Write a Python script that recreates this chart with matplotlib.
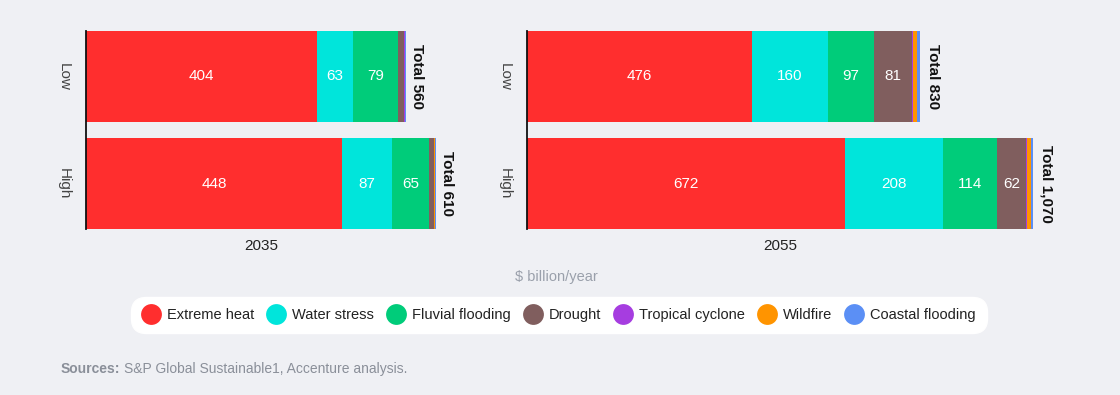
import matplotlib
matplotlib.use("Agg")
import matplotlib.pyplot as plt
from matplotlib.lines import Line2D
import numpy as np

plt.rcParams["font.family"] = ["Liberation Sans", "DejaVu Sans"]

# ---- data ----
hazards = ["Extreme heat", "Water stress", "Fluvial flooding", "Drought",
           "Tropical cyclone", "Wildfire", "Coastal flooding"]
colors = ["#ff2e2e", "#00e5db", "#00cc7a", "#805e5e", "#a63de0", "#ff9400", "#5b8ff5"]
scenarios = ["Low", "High"]
years = ["2035", "2055"]

vals_2035_low = [404, 63, 79, 10, 1, 1, 2]
vals_2035_high = [448, 87, 65, 8, 1, 1, 2]
vals_2055_low = [476, 160, 97, 81, 2, 8, 6]
vals_2055_high = [672, 208, 114, 62, 1, 8, 5]
totals_2035 = ["560", "610"]
totals_2055 = ["830", "1,070"]

panels = [
    (years[0], [vals_2035_low, vals_2035_high], totals_2035),
    (years[1], [vals_2055_low, vals_2055_high], totals_2055),
]

bg = "#eff0f4"
fig = plt.figure(figsize=(11.2, 3.95), dpi=100, facecolor=bg)

ax_rects = [
    [86 / 1120, 1 - 229 / 395, 350 / 1120, 198 / 395],
    [527 / 1120, 1 - 229 / 395, 506 / 1120, 198 / 395],
]

for rect, (year, rows, totals) in zip(ax_rects, panels):
    ax = fig.add_axes(rect)
    ax.set_facecolor(bg)
    max_total = max(sum(r) for r in rows)
    for i, row in enumerate(rows):
        left = 0
        for v, c in zip(row, colors):
            ax.barh(i, v, left=left, height=0.85, color=c, linewidth=0)
            if v >= 20:
                ax.text(left + v / 2, i, str(v), ha="center", va="center",
                        color="white", fontsize=11)
            left += v
        ax.text(left + max_total * 0.012, i, "Total " + totals[i], rotation=270,
                ha="left", va="center", fontsize=11, fontweight="bold", color="#111111")
    ax.set_ylim(1.425, -0.425)
    ax.set_xlim(0, max_total)
    ax.set_yticks(range(len(scenarios)))
    ax.set_yticklabels(scenarios, rotation=270, va="center", fontsize=11, color="#444444")
    ax.tick_params(axis="y", length=0, pad=11)
    ax.set_xticks([])
    ax.set_xlabel(year, fontsize=11, color="#222222", labelpad=7)
    for s in ["top", "right", "bottom"]:
        ax.spines[s].set_visible(False)
    ax.spines["left"].set_color("#111111")
    ax.spines["left"].set_linewidth(1.3)
    ax.set_zorder(2)

fig.text(556 / 1120, 1 - 277 / 395, "$ billion/year", ha="center", va="center",
         fontsize=10.5, color="#9aa0ab")

handles = [Line2D([0], [0], marker="o", linestyle="", markersize=15,
                  markerfacecolor=c, markeredgewidth=0) for c in colors]
leg = fig.legend(handles, hazards, loc="center", bbox_to_anchor=(559 / 1120, 1 - 315 / 395),
                 ncol=len(hazards), frameon=True, fancybox=True, fontsize=10.5,
                 handletextpad=0.5, columnspacing=0.9, borderpad=0.55, handlelength=1.2)
frame = leg.get_frame()
frame.set_facecolor("white")
frame.set_edgecolor("white")
frame.set_alpha(1)
frame.set_boxstyle("round,pad=0.2,rounding_size=1.0")
for t in leg.get_texts():
    t.set_color("#222222")

src_bold = fig.text(61 / 1120, 1 - 369 / 395, "Sources:", ha="left", va="center",
                    fontsize=10, fontweight="bold", color="#8a8f99")
fig.canvas.draw()
bb = src_bold.get_window_extent()
fig.text((bb.x1 + 4) / 1120, 1 - 369 / 395, "S&P Global Sustainable1, Accenture analysis.",
         ha="left", va="center", fontsize=10, color="#8a8f99")

fig.savefig("out.png", dpi=100, facecolor=bg)
